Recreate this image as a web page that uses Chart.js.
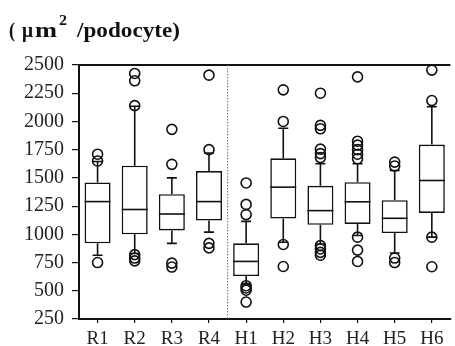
<!DOCTYPE html>
<html>
<head>
<meta charset="utf-8">
<script src="https://cdn.jsdelivr.net/npm/chart.js@4"></script>
<style>
  html, body { margin: 0; padding: 0; overflow: hidden; background: #fff; }
  #wrap { width: 457px; height: 350px; }
</style>
</head>
<body>
<div id="wrap"><canvas id="chart"></canvas></div>
<script>
// box plot values (um^2 / podocyte)
const groups = ['R1', 'R2', 'R3', 'R4', 'H1', 'H2', 'H3', 'H4', 'H5', 'H6'];
const q1 = [920, 1000, 1035, 1122, 630, 1140, 1085, 1092, 1012, 1190];
const medians = [1290, 1220, 1180, 1290, 760, 1418, 1210, 1288, 1142, 1477];
const q3 = [1460, 1608, 1355, 1560, 920, 1673, 1430, 1462, 1302, 1795];
const whiskerLow = [815, 830, 920, 1020, 555, 930, 915, 990, 835, 975];
const whiskerHigh = [1645, 2135, 1500, 1720, 1115, 1940, 1625, 1625, 1565, 2130];
const outliers = [
  [1710, 1650, 750],
  [2425, 2360, 2140, 820, 790, 765],
  [1930, 1620, 745, 710],
  [2410, 1750, 920, 880],
  [1455, 1265, 1175, 545, 525, 505, 400],
  [2280, 2000, 910, 715],
  [2250, 1965, 1935, 1755, 1715, 1680, 900, 870, 840, 815],
  [2395, 1825, 1790, 1750, 1710, 1670, 975, 860, 760],
  [1640, 1605, 790, 750],
  [2455, 2185, 975, 713]
];
const yTicks = [250, 500, 750, 1000, 1250, 1500, 1750, 2000, 2250, 2500];

const INK = '#111';
const LW = 1.6;
const SERIF = '"Liberation Serif", serif';

const outlierPoints = [];
outliers.forEach((list, i) => {
  list.forEach(v => outlierPoints.push({ x: groups[i], y: v }));
});

// draw a piece of text squeezed/stretched to a given width
function fitText(ctx, text, x, y, width) {
  const w = ctx.measureText(text).width;
  ctx.save();
  ctx.translate(x, y);
  ctx.scale(width / w, 1);
  ctx.fillText(text, 0, 0);
  ctx.restore();
}

// whiskers under everything, medians on top of the boxes
const boxExtras = {
  id: 'boxExtras',
  beforeDatasetsDraw(chart) {
    const { ctx, scales: { x, y } } = chart;
    ctx.save();
    ctx.strokeStyle = INK;
    ctx.lineWidth = LW;
    groups.forEach((g, i) => {
      const px = x.getPixelForValue(i);
      const cap = 5;
      ctx.beginPath();
      ctx.moveTo(px, y.getPixelForValue(whiskerHigh[i]));
      ctx.lineTo(px, y.getPixelForValue(q3[i]));
      ctx.moveTo(px, y.getPixelForValue(q1[i]));
      ctx.lineTo(px, y.getPixelForValue(whiskerLow[i]));
      ctx.moveTo(px - cap, y.getPixelForValue(whiskerHigh[i]));
      ctx.lineTo(px + cap, y.getPixelForValue(whiskerHigh[i]));
      ctx.moveTo(px - cap, y.getPixelForValue(whiskerLow[i]));
      ctx.lineTo(px + cap, y.getPixelForValue(whiskerLow[i]));
      ctx.stroke();
    });
    ctx.restore();
  },
  afterDatasetsDraw(chart) {
    const { ctx, chartArea, scales: { x, y } } = chart;
    const bars = chart.getDatasetMeta(0).data;
    ctx.save();
    ctx.strokeStyle = INK;
    ctx.lineWidth = LW;
    groups.forEach((g, i) => {
      const px = x.getPixelForValue(i);
      const half = bars[i].width / 2;
      const py = y.getPixelForValue(medians[i]);
      ctx.beginPath();
      ctx.moveTo(px - half, py);
      ctx.lineTo(px + half, py);
      ctx.stroke();
    });
    // top frame line
    ctx.lineWidth = 2;
    ctx.beginPath();
    ctx.moveTo(chartArea.left - 1, chartArea.top);
    ctx.lineTo(chartArea.right, chartArea.top);
    ctx.stroke();
    // dotted divider between R and H groups
    const dx = (x.getPixelForValue(3) + x.getPixelForValue(4)) / 2;
    ctx.strokeStyle = '#777';
    ctx.lineWidth = 1;
    ctx.setLineDash([1.5, 1.5]);
    ctx.beginPath();
    ctx.moveTo(dx, chartArea.top);
    ctx.lineTo(dx, chartArea.bottom);
    ctx.stroke();
    ctx.restore();
  },
  afterDraw(chart) {
    const ctx = chart.ctx;
    ctx.save();
    ctx.fillStyle = INK;
    ctx.textBaseline = 'alphabetic';
    ctx.font = 'bold 20px ' + SERIF;
    fitText(ctx, '(', 9, 37, 6);
    fitText(ctx, '\u03bc', 22, 37, 11);
    fitText(ctx, 'm', 35, 37, 22);
    ctx.font = 'bold 15px ' + SERIF;
    fitText(ctx, '2', 59, 25, 8);
    ctx.font = 'bold 20px ' + SERIF;
    fitText(ctx, '/podocyte)', 77, 37, 103);
    ctx.restore();
  }
};

new Chart(document.getElementById('chart'), {
  type: 'bar',
  data: {
    labels: groups,
    datasets: [
      {
        data: groups.map((g, i) => [q1[i], q3[i]]),
        backgroundColor: '#fff',
        borderColor: INK,
        borderWidth: LW,
        borderSkipped: false,
        barPercentage: 0.7,
        categoryPercentage: 1
      },
      {
        type: 'scatter',
        data: outlierPoints,
        pointRadius: 5,
        pointBorderWidth: LW,
        borderColor: INK,
        backgroundColor: 'rgba(0,0,0,0)'
      }
    ]
  },
  plugins: [boxExtras],
  options: {
    responsive: true,
    maintainAspectRatio: false,
    animation: false,
    layout: { padding: { top: 65, left: 0, right: 0, bottom: 0 } },
    plugins: { legend: { display: false }, tooltip: { enabled: false } },
    scales: {
      x: {
        type: 'category',
        offset: true,
        afterFit: s => { s.height = 31; },
        grid: { display: true, offset: false, drawOnChartArea: false, drawTicks: true, tickLength: 4, color: INK, lineWidth: 1.2 },
        border: { display: true, color: INK, width: 2 },
        ticks: { color: '#222', padding: 5, font: { family: SERIF, size: 19 } }
      },
      y: {
        min: 250,
        max: 2500,
        afterFit: s => { s.width = 79; },
        afterBuildTicks: s => { s.ticks = yTicks.map(v => ({ value: v })); },
        grid: { display: true, drawOnChartArea: false, drawTicks: true, tickLength: 7, color: INK, lineWidth: 1.2 },
        border: { display: true, color: INK, width: 2 },
        ticks: {
          color: '#222',
          padding: 8,
          font: { family: SERIF, size: 20 },
          callback: v => String(v)
        }
      }
    }
  }
});
</script>
</body>
</html>
